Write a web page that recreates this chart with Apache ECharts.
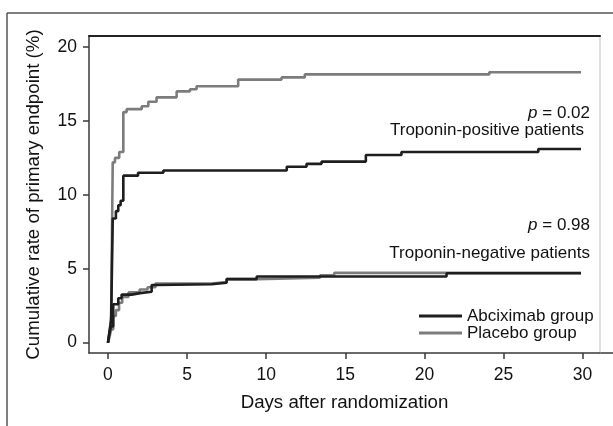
<!DOCTYPE html>
<html>
<head>
<meta charset="utf-8">
<script src="https://cdn.jsdelivr.net/npm/echarts@6/dist/echarts.min.js"></script>
<style>
  html, body { margin: 0; padding: 0; background: #fff; }
  #chart { width: 613px; height: 426px; }
</style>
</head>
<body>
<div id="chart"></div>
<script>
// Kaplan-Meier style cumulative event curves
var dayTicks = [0, 5, 10, 15, 20, 25, 30];
var rateTicks = [0, 5, 10, 15, 20];

// troponin-positive, placebo
var placeboPosDays = [0, 0.1, 0.2, 0.3, 0.44, 0.71, 0.97, 1.18, 2.13, 2.55, 3.07, 4.34, 5.18, 5.6, 8.23, 10.97, 12.44, 24.1, 29.9];
var placeboPosRate = [0, 0.6, 1.8, 12.2, 12.5, 12.9, 15.6, 15.8, 16.0, 16.3, 16.6, 17.0, 17.15, 17.35, 17.8, 17.95, 18.15, 18.3, 18.3];

// troponin-positive, abciximab
var abcixPosDays = [0, 0.1, 0.2, 0.3, 0.5, 0.65, 0.8, 0.97, 1.9, 3.5, 11.3, 12.55, 13.5, 16.3, 18.55, 27.2, 29.9];
var abcixPosRate = [0, 0.8, 1.5, 8.4, 8.9, 9.3, 9.6, 11.3, 11.5, 11.65, 11.9, 12.1, 12.25, 12.7, 12.9, 13.1, 13.1];

// troponin-negative, abciximab
var abcixNegDays = [0, 0.1, 0.2, 0.33, 0.65, 0.86, 1.5, 2.02, 2.76, 3.07, 6.55, 7.5, 9.4, 21.4, 29.9];
var abcixNegRate = [0, 0.7, 1.1, 2.6, 3.0, 3.25, 3.35, 3.45, 3.9, 3.95, 4.05, 4.3, 4.48, 4.7, 4.7];

// troponin-negative, placebo
var placeboNegDays = [0, 0.1, 0.2, 0.33, 0.5, 0.7, 0.9, 1.3, 2.0, 2.5, 3.0, 6.55, 7.5, 9.4, 13.4, 14.3, 29.9];
var placeboNegRate = [0, 0.4, 0.9, 1.8, 2.2, 2.7, 3.1, 3.4, 3.6, 3.75, 4.0, 4.1, 4.3, 4.4, 4.55, 4.72, 4.72];

var BLACK = '#1e1e1e';
var GREY = '#7c7c7c';
var FONT = '"Liberation Sans", Arial, sans-serif';

function pairs(xs, ys) {
  return xs.map(function (x, i) { return [x, ys[i]]; });
}

function curve(name, color, xs, ys) {
  return {
    name: name,
    type: 'line',
    step: 'end',
    symbol: 'none',
    color: color,
    lineStyle: { color: color, width: 2.6 },
    data: pairs(xs, ys),
    z: color === BLACK ? 3 : 2
  };
}

var chart = echarts.init(document.getElementById('chart'));
chart.setOption({
  animation: false,
  backgroundColor: '#fff',
  textStyle: { fontFamily: FONT },
  grid: { left: 89, right: 13, top: 36, bottom: 73 },
  xAxis: [{
    type: 'value',
    min: -1.2,
    max: 31.1,
    name: 'Days after randomization',
    nameLocation: 'middle',
    nameGap: 40,
    nameTextStyle: { fontSize: 18.7, color: '#111', fontFamily: FONT },
    axisLine: { onZero: false, lineStyle: { color: '#3a3a3a', width: 1.5 } },
    axisTick: { show: true, length: 6, customValues: dayTicks, lineStyle: { color: '#3a3a3a', width: 1.5 } },
    axisLabel: { customValues: dayTicks, fontSize: 17.5, color: '#111', margin: 13, fontFamily: FONT },
    splitLine: { show: false }
  }, {
    type: 'value',
    position: 'top',
    min: -1.2,
    max: 31.1,
    axisLine: { show: true, onZero: false, lineStyle: { color: '#222', width: 2 } },
    axisTick: { show: false },
    axisLabel: { show: false },
    splitLine: { show: false }
  }],
  yAxis: [{
    type: 'value',
    min: -0.7,
    max: 20.75,
    name: 'Cumulative rate of primary endpoint (%)',
    nameLocation: 'middle',
    nameGap: 46,
    nameTextStyle: { fontSize: 18.7, color: '#111', fontFamily: FONT },
    axisLine: { show: true, onZero: false, lineStyle: { color: '#3a3a3a', width: 1.5 } },
    axisTick: { show: true, length: 6, customValues: rateTicks, lineStyle: { color: '#3a3a3a', width: 1.5 } },
    axisLabel: { customValues: rateTicks, fontSize: 17.5, color: '#111', margin: 12, fontFamily: FONT },
    splitLine: { show: false }
  }, {
    type: 'value',
    position: 'right',
    min: -0.7,
    max: 20.75,
    axisLine: { show: true, onZero: false, lineStyle: { color: '#d4d4d4', width: 1.5 } },
    axisTick: { show: false },
    axisLabel: { show: false },
    splitLine: { show: false }
  }],
  legend: {
    orient: 'vertical',
    left: 414,
    top: 302,
    itemWidth: 43,
    itemHeight: 3,
    itemGap: -1,
    icon: 'rect',
    textStyle: { fontSize: 17, color: '#111', fontFamily: FONT, lineHeight: 18 },
    data: ['Abciximab group', 'Placebo group']
  },
  series: [
    curve('Placebo group', GREY, placeboPosDays, placeboPosRate),
    curve('Abciximab group', BLACK, abcixPosDays, abcixPosRate),
    curve('Placebo group', GREY, placeboNegDays, placeboNegRate),
    curve('Abciximab group', BLACK, abcixNegDays, abcixNegRate)
  ],
  graphic: [
    // outer figure frame (top and left edges only visible)
    { type: 'line', shape: { x1: 7, y1: 13, x2: 613, y2: 13 }, style: { stroke: '#555', lineWidth: 1.5 } },
    { type: 'line', shape: { x1: 7, y1: 13, x2: 7, y2: 426 }, style: { stroke: '#555', lineWidth: 1.5 } },
    // bottom axis runs past the plot box
    { type: 'line', shape: { x1: 600, y1: 353, x2: 613, y2: 353 }, style: { stroke: '#3a3a3a', lineWidth: 1.5 } },
    {
      type: 'text', x: 590, y: 113,
      style: {
        text: '{i|p} = 0.02', align: 'right', verticalAlign: 'middle',
        fontSize: 17, fontFamily: FONT, fill: '#111',
        rich: { i: { fontStyle: 'italic', fontSize: 17, fontFamily: FONT } }
      }
    },
    {
      type: 'text', x: 584, y: 130,
      style: { text: 'Troponin-positive patients', align: 'right', verticalAlign: 'middle', fontSize: 17, fontFamily: FONT, fill: '#111' }
    },
    {
      type: 'text', x: 590, y: 225,
      style: {
        text: '{i|p} = 0.98', align: 'right', verticalAlign: 'middle',
        fontSize: 17, fontFamily: FONT, fill: '#111',
        rich: { i: { fontStyle: 'italic', fontSize: 17, fontFamily: FONT } }
      }
    },
    {
      type: 'text', x: 590, y: 253,
      style: { text: 'Troponin-negative patients', align: 'right', verticalAlign: 'middle', fontSize: 17, fontFamily: FONT, fill: '#111' }
    }
  ]
});
</script>
</body>
</html>
